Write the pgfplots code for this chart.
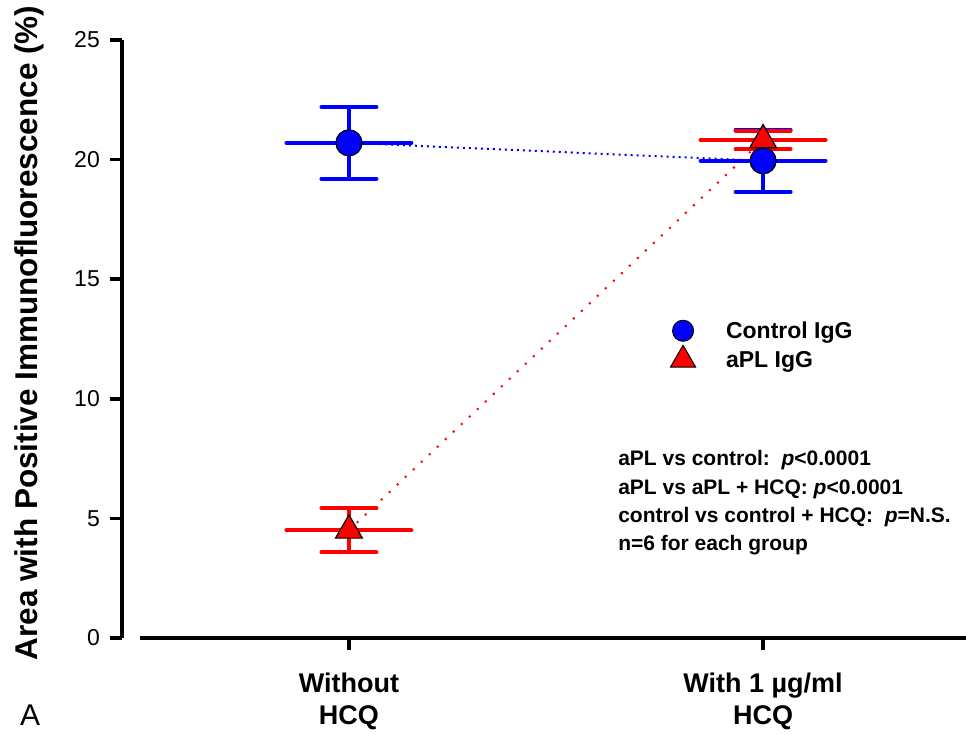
\documentclass[border=0pt]{standalone}
\usepackage{fontspec}
\setmainfont{Liberation Sans}
\usepackage{pgfplots}
\pgfplotsset{compat=1.18}
\definecolor{cblue}{RGB}{0,0,255}
\definecolor{cred}{RGB}{255,0,0}
\begin{document}
\begin{tikzpicture}
\begin{axis}[
  at={(0pt,0pt)}, anchor=south west,
  scale only axis, width=844pt, height=598pt,
  xmin=-0.548, xmax=1.490, ymin=0, ymax=25,
  axis x line=bottom, axis y line=left,
  axis line style={-, line width=3.5pt, black},
  x axis line style={shorten <=18pt},
  tick align=outside, major tick length=12pt,
  tick style={line width=3.5pt, black},
  xtick={0,1}, xticklabels={{Without\\HCQ},{With 1 µg/ml\\HCQ}},
  xticklabel style={align=center, font=\bfseries\fontsize{27}{32}\selectfont, inner sep=0pt, anchor=north, yshift=-23pt},
  ytick={0,5,10,15,20,25},
  yticklabel style={font=\fontsize{23}{23}\selectfont, inner sep=0pt, anchor=east, xshift=-10pt},
  /pgf/number format/assume math mode=true,
  ylabel={Area with Positive Immunofluorescence (\%)},
  ylabel style={font=\bfseries\fontsize{31.5}{31.5}\selectfont, at={(axis description cs:-0.1007,0.510)}, anchor=base},
  clip=false,
  legend style={at={(axis cs:0.773,13.45)}, anchor=north west, draw=none, fill=none, inner sep=0pt, outer sep=0pt, row sep=0pt, column sep=0pt, nodes={inner sep=0pt}, font=\bfseries\fontsize{23}{23}\selectfont},
  legend cell align=left,
  legend image code/.code={\path[draw=none,fill=none] (-14pt,-14.5pt) rectangle (43pt,14.5pt); \draw[#1] plot coordinates {(0pt,0pt)};},
]
\addlegendimage{only marks, mark=*, mark size=10.5pt, mark options={fill=cblue, draw=black, line width=1pt}}
\addlegendentry{Control IgG}
\addlegendimage{only marks, mark=triangle*, mark size=14.5pt, mark options={fill=cred, draw=black, line width=1pt}}
\addlegendentry{aPL IgG}

\addplot[forget plot, cblue, line width=2pt, dash pattern=on 2pt off 4pt] coordinates {(0,20.7) (1,19.95)};
\addplot[forget plot, cred, line width=2pt, dash pattern=on 2pt off 9pt] coordinates {(0,4.5) (1,20.82)};

\addplot[forget plot, only marks, mark=none, error bars/.cd, y dir=both, y explicit,
  error bar style={line width=4pt, draw=cblue},
  error mark=|, error mark options={line width=4pt, draw=cblue, mark size=27.5pt, line cap=round}]
  coordinates {(0,20.7) +- (0,1.5) (1,19.95) +- (0,1.3)};
\addplot[forget plot, only marks, mark=-, mark size=62.5pt, mark options={line width=4pt, line cap=round, draw=cblue}]
  coordinates {(0,20.7) (1,19.95)};
\addplot[forget plot, only marks, mark=*, mark size=13pt, mark options={fill=cblue, draw=black, line width=1.2pt}]
  coordinates {(0,20.7) (1,19.95)};

\addplot[forget plot, only marks, mark=none, error bars/.cd, y dir=both, y explicit,
  error bar style={line width=4pt, draw=cred},
  error mark=|, error mark options={line width=4pt, draw=cred, mark size=27.5pt, line cap=round}]
  coordinates {(0,4.5) +- (0,0.92) (1,20.82) +- (0,0.39)};
\addplot[forget plot, only marks, mark=-, mark size=62.5pt, mark options={line width=4pt, line cap=round, draw=cred}]
  coordinates {(0,4.5) (1,20.82)};
\addplot[forget plot, only marks, mark=triangle*, mark size=15.5pt, mark options={fill=cred, draw=black, line width=1.2pt}]
  coordinates {(0,4.5) (1,20.82)};

\node[anchor=base west, inner sep=0pt, font=\bfseries\fontsize{21}{21}\selectfont] at (axis cs:0.6498,7.232) {aPL vs control:\ \ \textit{p}<0.0001};
\node[anchor=base west, inner sep=0pt, font=\bfseries\fontsize{21}{21}\selectfont] at (axis cs:0.6498,6.008) {aPL vs aPL + HCQ: \textit{p}<0.0001};
\node[anchor=base west, inner sep=0pt, font=\bfseries\fontsize{21}{21}\selectfont] at (axis cs:0.6498,4.820) {control vs control + HCQ:\ \ \textit{p}=N.S.};
\node[anchor=base west, inner sep=0pt, font=\bfseries\fontsize{21}{21}\selectfont] at (axis cs:0.6498,3.679) {n=6 for each group};
\node[anchor=base west, inner sep=0pt, font=\fontsize{30}{30}\selectfont] at (axis cs:-0.7947,-3.637) {A};
\end{axis}
\pgfresetboundingbox
\path[use as bounding box] (-122pt,-96pt) rectangle (844pt,638pt);
\end{tikzpicture}
\end{document}
